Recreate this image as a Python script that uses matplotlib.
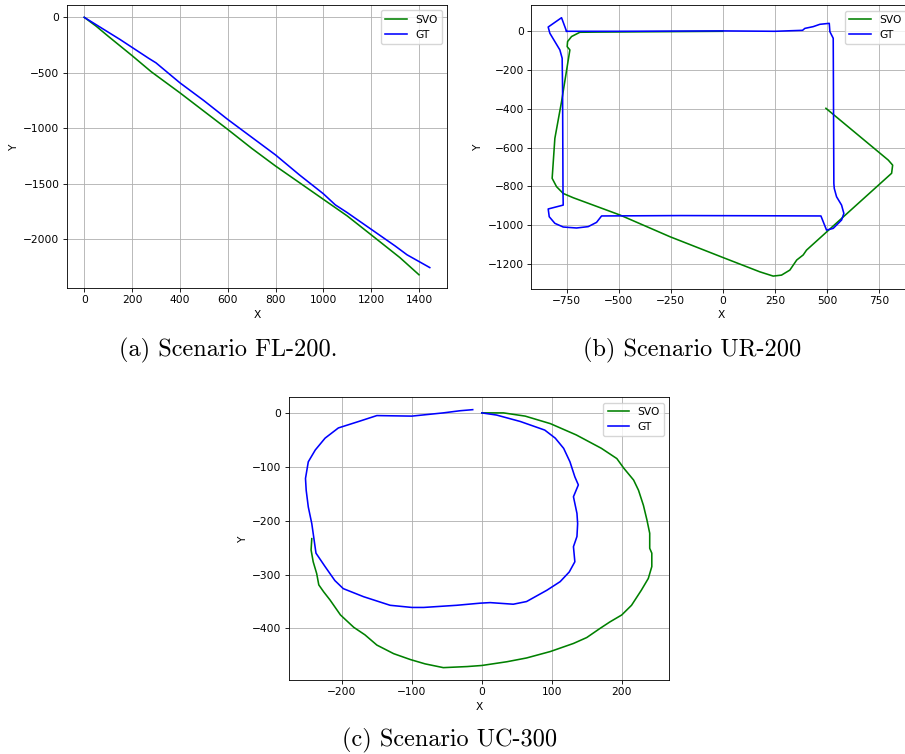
import matplotlib
matplotlib.use("Agg")
import matplotlib.pyplot as plt
import numpy as np

# ---------------- data ----------------
# (a) Scenario FL-200
fl_svo_x = [0, 50, 100, 200, 280, 400, 500, 600, 700, 800, 900, 1000, 1100, 1200, 1320, 1400]
fl_svo_y = [0, -80, -170, -345, -490, -680, -845, -1010, -1180, -1340, -1490, -1640, -1790, -1960, -2165, -2320]
fl_gt_x = [0, 60, 150, 270, 300, 400, 500, 600, 700, 800, 900, 1000, 1050, 1100, 1200, 1300, 1350, 1445]
fl_gt_y = [0, -80, -200, -370, -410, -590, -750, -920, -1080, -1240, -1420, -1590, -1690, -1760, -1910, -2060, -2140, -2255]

# (b) Scenario UR-200
ur_svo_x = [0, -300, -600, -686, -726, -745, -747, -734, -774, -806, -819, -798, -766, -718,
            -494, -254, 2, 177, 241, 281, 321, 354, 385, 401, 609, 809, 814, 793, 494]
ur_svo_y = [0, -2, -4, -5, -27, -53, -79, -96, -363, -552, -758, -801, -836, -858,
            -947, -1059, -1167, -1240, -1262, -1257, -1231, -1179, -1153, -1128, -926, -732, -690, -664, -397]
ur_gt_x = [-750, -500, -250, 0, 250, 382, 393, 433, 465, 510, 513, 529, 532, 534, 545, 569, 580, 569, 529, 497, 470,
           200, -200, -582, -606, -646, -702, -766, -806, -833, -838, -766, -767, -769, -771, -782, -806, -830, -838, -774, -750]
ur_gt_y = [0, 0, 1, 2, 0, 5, 15, 24, 36, 41, -2, -36, -784, -810, -853, -896, -939, -973, -1016, -1025, -952,
           -951, -950, -952, -985, -1007, -1014, -1009, -990, -956, -916, -896, -827, -294, -139, -96, -53, -10, 22, 70, 0]

# (c) Scenario UC-300
uc_svo_x = [0, 31, 62, 98, 135, 171, 193, 203, 217, 224, 231, 236, 240, 240, 243, 243, 238, 228, 214, 200, 183, 169,
            150, 131, 98, 64, 36, 0, -21, -55, -81, -102, -126, -150, -167, -183, -202, -217, -226, -233, -236, -241, -244, -243]
uc_svo_y = [1, 1, -5, -19, -40, -65, -84, -102, -124, -143, -171, -198, -223, -251, -260, -285, -307, -329, -357, -375, -388, -400,
            -417, -428, -443, -455, -462, -469, -471, -473, -466, -458, -447, -431, -412, -398, -375, -347, -332, -319, -298, -276, -254, -233]
uc_gt_x = [0, 21, 55, 90, 105, 117, 126, 133, 138, 131, 136, 137, 136, 131, 133, 125, 112, 93, 64, 45, 12, -2, -36, -83,
           -100, -131, -169, -198, -210, -224, -237, -243, -248, -251, -252, -248, -238, -224, -205, -176, -150, -100, -55, -31, -13]
uc_gt_y = [1, -3, -15, -31, -46, -65, -90, -118, -133, -155, -186, -205, -229, -248, -276, -295, -313, -329, -350, -355, -352, -353, -357, -361,
           -361, -357, -341, -326, -311, -285, -260, -205, -174, -143, -121, -90, -68, -46, -27, -15, -4, -5, 1, 5, 7]

captions = ["(a) Scenario FL-200.", "(b) Scenario UR-200", "(c) Scenario UC-300"]

# ---------------- style ----------------
s = 0.766
plt.rcParams.update({
    "font.size": 10 * s,
    "lines.linewidth": 1.5 * s,
    "axes.linewidth": 0.8 * s,
    "grid.linewidth": 0.8 * s,
    "xtick.major.size": 3.5 * s,
    "ytick.major.size": 3.5 * s,
    "xtick.major.width": 0.8 * s,
    "ytick.major.width": 0.8 * s,
    "xtick.major.pad": 3.5 * s,
    "ytick.major.pad": 3.5 * s,
    "axes.labelpad": 4.0 * s,
    "legend.fontsize": 10 * s,
})

W, H = 905, 754
fig = plt.figure(figsize=(W / 100, H / 100), dpi=100)


def add_ax(left, top, right, bottom):
    return fig.add_axes([left / W, 1 - bottom / H, (right - left) / W, (bottom - top) / H])


axa = add_ax(67, 5, 447, 288)
axb = add_ax(531.3, 5.3, 911, 288.7)
axc = add_ax(288.7, 397.3, 669.3, 680)

panels = [
    (axa, fl_svo_x, fl_svo_y, fl_gt_x, fl_gt_y, (-72, 1517), (-2439, 111)),
    (axb, ur_svo_x, ur_svo_y, ur_gt_x, ur_gt_y, (-919, 902), (-1327, 134)),
    (axc, uc_svo_x, uc_svo_y, uc_gt_x, uc_gt_y, (-276, 268), (-496, 30)),
]

for ax, sx, sy, gx, gy, xl, yl in panels:
    ax.plot(sx, sy, color="green", label="SVO")
    ax.plot(gx, gy, color="blue", label="GT")
    ax.set_xlim(*xl)
    ax.set_ylim(*yl)
    ax.grid(True)
    ax.set_xlabel("X")
    ax.set_ylabel("Y")
    ax.legend(loc="upper right")

axb.set_xticks([-750, -500, -250, 0, 250, 500, 750])
axb.set_xlim(-919, 902)

cap_font = dict(family=["cmr10", "DejaVu Serif"], fontsize=17.5, ha="center", va="baseline")
fig.text(227.8 / W, 1 - 356 / H, captions[0], **cap_font)
fig.text(692.5 / W, 1 - 356 / H, captions[1], **cap_font)
fig.text(450 / W, 1 - 746.7 / H, captions[2], **cap_font)

fig.savefig("out.png", dpi=100)
